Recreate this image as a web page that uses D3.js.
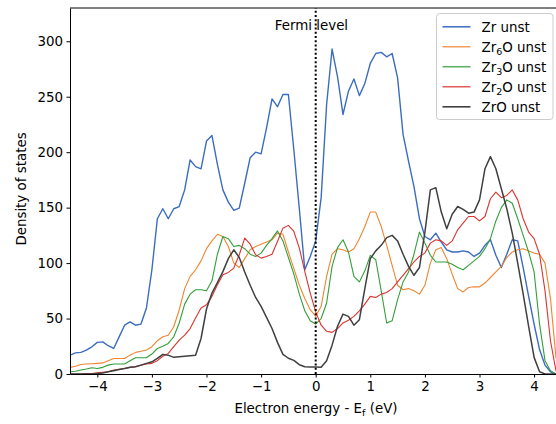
<!DOCTYPE html>
<html>
<head>
<meta charset="utf-8">
<script src="https://cdn.jsdelivr.net/npm/d3@7/dist/d3.min.js"></script>
<style>
  html, body { margin: 0; padding: 0; background: #fff; }
  svg { display: block; }
  text { font-family: "DejaVu Sans", sans-serif; fill: #000; }
</style>
</head>
<body>
<svg id="chart" width="556" height="424"></svg>
<script>
// Energy grid relative to the Fermi level (eV)
const energy = [
  -4.5,-4.4,-4.3,-4.2,-4.1,-4.0,-3.9,-3.8,-3.7,-3.6,-3.5,-3.4,-3.3,-3.2,-3.1,
  -3.0,-2.9,-2.8,-2.7,-2.6,-2.5,-2.4,-2.3,-2.2,-2.1,-2.0,-1.9,-1.8,-1.7,-1.6,
  -1.5,-1.4,-1.3,-1.2,-1.1,-1.0,-0.9,-0.8,-0.7,-0.6,-0.5,-0.4,-0.3,-0.2,-0.1,
  0.0,0.1,0.2,0.3,0.4,0.5,0.6,0.7,0.8,0.9,1.0,1.1,1.2,1.3,1.4,
  1.5,1.6,1.7,1.8,1.9,2.0,2.1,2.2,2.3,2.4,2.5,2.6,2.7,2.8,2.9,
  3.0,3.1,3.2,3.3,3.4,3.5,3.6,3.7,3.8,3.9,4.0,4.1,4.2,4.3,4.4,4.5
];

// Density of states for each structure
const dosZr = [
  17,19,19.5,21.5,24.5,28.5,29,25.5,23,33.5,44,47,44,45,59.5,
  94,140,149,140,149,151,166,193,187,185,210,215,189,166,155,
  147.5,149.5,172,195,200,198.5,222,248,241,252,252,202,149,94,106,
  120,159,243,293,268,234,255,266,251,262,280,289,290,286,289,
  267,216,192,169,140,124,121,127,119,112,110,110,111,110,106,
  109,116,121,107,96,108,121,120,96,70,45,22,8,2,0,0
];
const dosZr6O = [
  6,7,8.5,9,9.3,9.6,10,12,14,14,14,17,19.5,20.5,21.6,
  24.6,30,33.6,35,42.6,57.7,77,88,94,102,113,120,126,124,115,
  100,96,104,112,115,117,119,121,127,126,110,95,80,68,58,
  52,61,88,108,113,112,110,113,122,133,146,146,133,116,98,
  80,76,77,75,72,80,100,112,114,104,90,77,74,78,78.6,
  78.6,82,87,92,97,105,110,112,113,111,109,108,100,68,15,0
];
const dosZr3O = [
  2,2.5,3.6,4.5,5.7,5,6,8,9,9,9,12,14.7,14.7,14.7,
  18,23,25,27.6,33.6,46,63,72,76,76,75,84,108,124,122,
  115,116,113,108,106,109,116,122,129,120,105,90,72,57,48,
  45,50,64,97,114,121,110,88,83,93,107,103,75,46,48,
  67,83,92,108,128,118,107,101,101,101,99,96,94,98,102,
  106,113,122,138,150,157,154,140,125,110,92,45,12,3,0,0
];
const dosZr2O = [
  0,0,0,0.3,0.5,1,1.5,2,3.6,4.3,5,6,6.6,8,9,
  9.6,12,16,18.6,24.6,30.6,35,41,50.5,59.5,62.4,70,80.5,89.5,91.6,
  95.5,107.5,122.5,117,107.5,104.5,106,108,119.5,131.5,134,128.5,113.5,92.5,73,
  56,44,38.5,37.5,41,46,48.5,52,57,63,70,69,72,73.5,77,
  83,89,95,101,106,109,118,121,120,116,120,130,136,142,142,
  138,142,158,164,159,161,166,157,140,128,122,108,75,30,3,0
];
const dosZrO = [
  0,0,0,0,0,0.5,1,2,3,4,5,6,6.6,8,9.6,
  11,14,17.7,17,15,15.6,16,16.5,17,32,58.6,73,82.5,92.3,104,
  112,105,92,80,69,61,51,41,28.5,17.7,14.2,12.3,8.4,6.5,6.3,
  6.3,6,12,26,43,54,52,44,49,77,104,111,116,123,125,
  120,108,97,89,96,128,166,168,146,131,144,151,148.5,145,146,
  157,185,196,185,167,149,127,100,72,43,15,2,0,0,0,0
];

const seriesNames = ["Zr unst", "Zr6O unst", "Zr3O unst", "Zr2O unst", "ZrO unst"];
const seriesValues = [dosZr, dosZr6O, dosZr3O, dosZr2O, dosZrO];
// Legend labels: [main text, subscript, rest]
const legendParts = [["Zr", "", " unst"], ["Zr", "6", "O unst"], ["Zr", "3", "O unst"], ["Zr", "2", "O unst"], ["ZrO", "", " unst"]];
const seriesColors = ["#3a6cc0", "#ee8632", "#339e3a", "#d9342f", "#404040"];
const seriesWidths = [1.4, 1.1, 1.1, 1.1, 1.5];

const xTicks = [-4, -3, -2, -1, 0, 1, 2, 3, 4];
const yTicks = [0, 50, 100, 150, 200, 250, 300];
const xDomain = [-4.5, 4.5];
const yDomain = [0, 330];

const svg = d3.select("#chart");
const W = 556, H = 424;
const margin = { left: 70, top: 8, bottom: 50 };
const plotRight = 561.4;

const x = d3.scaleLinear().domain(xDomain).range([margin.left, plotRight]);
const y = d3.scaleLinear().domain(yDomain).range([H - margin.bottom, margin.top]);

svg.append("rect").attr("width", W).attr("height", H).attr("fill", "#fff");

svg.append("defs").append("clipPath").attr("id", "plotClip")
  .append("rect")
  .attr("x", x(xDomain[0])).attr("y", y(yDomain[1]))
  .attr("width", x(xDomain[1]) - x(xDomain[0]))
  .attr("height", y(yDomain[0]) - y(yDomain[1]));

const line = d3.line()
  .x((d, i) => x(energy[i]))
  .y(d => y(d));

const plot = svg.append("g").attr("clip-path", "url(#plotClip)");
seriesValues.forEach((vals, k) => {
  plot.append("path")
    .datum(vals)
    .attr("d", line)
    .attr("fill", "none")
    .attr("stroke", seriesColors[k])
    .attr("stroke-width", seriesWidths[k])
    .attr("stroke-linejoin", "round");
});

// Fermi level marker
plot.append("line")
  .attr("x1", x(0)).attr("x2", x(0))
  .attr("y1", y(yDomain[0])).attr("y2", y(yDomain[1]))
  .attr("stroke", "#000")
  .attr("stroke-width", 2)
  .attr("stroke-dasharray", "2,2.2");

svg.append("text")
  .attr("x", x(-0.75)).attr("y", y(310))
  .attr("font-size", 13.4)
  .text("Fermi level");

// Axes
const fmt = d => (d < 0 ? "\u2212" + Math.abs(d) : String(d));
const xAxis = svg.append("g")
  .attr("transform", `translate(0,${y(0)})`)
  .call(d3.axisBottom(x).tickValues(xTicks).tickFormat(fmt).tickSize(3.5).tickSizeOuter(0).tickPadding(3.5));
const yAxis = svg.append("g")
  .attr("transform", `translate(${x(xDomain[0])},0)`)
  .call(d3.axisLeft(y).tickValues(yTicks).tickSize(3.5).tickSizeOuter(0).tickPadding(3.5));

[xAxis, yAxis].forEach(g => {
  g.selectAll("text").attr("font-size", 13.4).attr("font-family", "DejaVu Sans").attr("fill", "#000");
  g.selectAll("line").attr("stroke", "#000").attr("stroke-width", 1);
  g.select(".domain").attr("stroke", "#000").attr("stroke-width", 1);
});

// Top spine
svg.append("line")
  .attr("x1", x(xDomain[0])).attr("x2", x(xDomain[1]))
  .attr("y1", y(yDomain[1])).attr("y2", y(yDomain[1]))
  .attr("stroke", "#000").attr("stroke-width", 1);
// Right spine
svg.append("line")
  .attr("x1", x(xDomain[1])).attr("x2", x(xDomain[1]))
  .attr("y1", y(yDomain[1])).attr("y2", y(yDomain[0]))
  .attr("stroke", "#000").attr("stroke-width", 1);

// Axis labels
const xl = svg.append("text")
  .attr("x", 316).attr("y", 413)
  .attr("text-anchor", "middle")
  .attr("font-size", 13.4);
xl.append("tspan").text("Electron energy - E");
xl.append("tspan").attr("font-size", 9.5).attr("dy", 3).text("f");
xl.append("tspan").attr("dy", -3).text(" (eV)");

svg.append("text")
  .attr("transform", "translate(26,189) rotate(-90)")
  .attr("text-anchor", "middle")
  .attr("font-size", 13.4)
  .text("Density of states");

// Legend
const lg = svg.append("g").attr("transform", "translate(436.5,13.5)");
lg.append("rect")
  .attr("width", 116.5).attr("height", 106)
  .attr("rx", 3).attr("ry", 3)
  .attr("fill", "#fff").attr("fill-opacity", 0.8)
  .attr("stroke", "#cccccc").attr("stroke-width", 1);
seriesNames.forEach((name, k) => {
  const cy = 13.3 + k * 20;
  lg.append("line")
    .attr("x1", 6).attr("x2", 34).attr("y1", cy).attr("y2", cy)
    .attr("stroke", seriesColors[k]).attr("stroke-width", seriesWidths[k] + 0.1);
  const t = lg.append("text").attr("x", 45).attr("y", cy + 4.8).attr("font-size", 13.4);
  const [a, sub, rest] = legendParts[k];
  t.append("tspan").text(a);
  if (sub) {
    t.append("tspan").attr("font-size", 9.5).attr("dy", 3).text(sub);
    t.append("tspan").attr("dy", -3).text(rest);
  } else {
    t.append("tspan").text(rest);
  }
});
</script>
</body>
</html>
